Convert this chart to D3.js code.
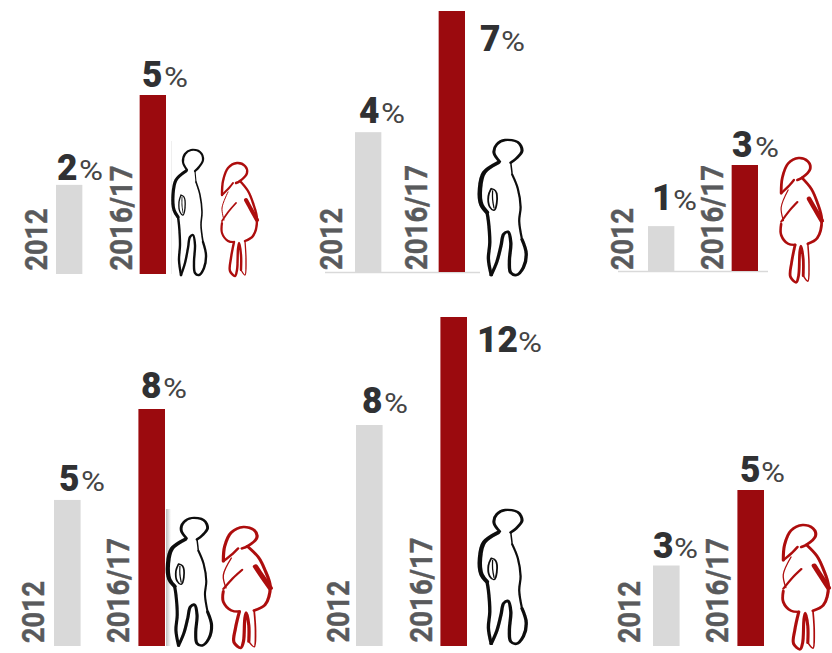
<!DOCTYPE html>
<html>
<head>
<meta charset="utf-8">
<script src="https://cdnjs.cloudflare.com/ajax/libs/d3/7.8.5/d3.min.js"></script>
<style>
  html, body { margin: 0; padding: 0; background: #fff; }
  text { font-family: Roboto, "Liberation Sans", sans-serif; }
</style>
</head>
<body>
<script>
// Values (one entry per small chart, left to right, top to bottom)
var years = ["2012", "2016/17"];
var labels2012 = ["2", "4", "1", "5", "8", "3"];
var labels2016 = ["5", "7", "3", "8", "12", "5"];
var values2012 = [2.49, 3.75, 1.27, 4.93, 8.06, 2.58];
var values2016 = [5, 7, 3, 8, 12, 5];

var width = 832;
var height = 653;

// Where each small chart sits on the page
var panels = [
  {x0: 56,  x1: 166, base: 274, top: 95,  yearX: [47, 132],  yearY: 270.5, num: [[57, 180, 79], [142, 87, 164]]},
  {x0: 355, x1: 465, base: 272, top: 11,  yearX: [342, 427], yearY: 270,   num: [[359, 122.5, 381], [480, 51, 501]], axis: [325, 480]},
  {x0: 648, x1: 758, base: 271, top: 165, yearX: [633, 723], yearY: 270,   num: [[652, 210, 673], [732, 157, 755]], axis: [618, 768]},
  {x0: 54,  x1: 165, base: 646, top: 409, yearX: [44, 129],  yearY: 643,   num: [[59, 491, 81], [141, 398, 163]]},
  {x0: 356, x1: 467, base: 646, top: 317, yearX: [349, 432], yearY: 642.5, num: [[362, 413, 384], [477, 352, 518]]},
  {x0: 653, x1: 764, base: 646, top: 490, yearX: [640, 728], yearY: 643,   num: [[653, 558, 674], [740, 482, 761]]}
];

// Hand traced pictograms, in pixels of a 33x125 man and a 37x113 woman
var manStrokes = [
  {w: 2.2, pts: [[14, 20], [10, 12], [12, 4], [18, 0], [27, 2], [30, 10], [26, 17], [22, 21]]},
  {w: 1.1, pts: [[22, 21], [23, 32]]},
  {w: 1.6, pts: [[23, 32], [27, 45], [29, 62], [28, 75], [30, 92]]},
  {w: 2.4, pts: [[30, 92], [33, 105], [31, 118], [26, 125], [22, 123], [21, 112], [22, 95], [20, 85], [17, 87], [15, 98], [12, 113], [8, 125]]},
  {w: 2.4, pts: [[8, 125], [6, 110], [7, 95], [6, 75], [5, 67]]},
  {w: 3.2, pts: [[5, 67], [1, 60], [0, 45], [3, 30], [13, 21]]},
  {w: 1.3, pts: [[8, 45], [6, 52], [7, 62], [10, 65], [12, 58], [11, 47], [8, 45]]},
  {w: 0.9, pts: [[9, 47], [9, 55], [10, 63]]}
];
var womanStrokes = [
  {w: 2.4, pts: [[1, 32], [2, 18], [7, 5], [16, 0], [24, 3], [26, 10], [19, 18], [15, 20]]},
  {w: 2, pts: [[1, 32], [8, 25], [12, 20]]},
  {w: 2.4, pts: [[19, 18], [27, 28], [32, 40], [36, 56], [32, 73], [24, 78]]},
  {w: 4, pts: [[25, 37], [31, 48], [36, 57]]},
  {w: 1, pts: [[7, 29], [1, 45], [3, 57]]},
  {w: 1.8, pts: [[15, 40], [8, 48], [1, 58]]},
  {w: 2.2, pts: [[1, 60], [1, 70], [7, 78], [13, 79]]},
  {w: 2.4, pts: [[13, 79], [10, 95], [9, 108], [14, 113], [16, 107], [17, 86], [18, 80], [20, 92], [20, 107]]},
  {w: 1.3, pts: [[20, 107], [24, 112], [25, 98], [24, 78]]}
];

var figures = [
  {strokes: manStrokes,   color: "#0a0a0a", x: 173, y: 150, sx: 1,    sy: 1},
  {strokes: womanStrokes, color: "#ad0a0a", x: 221, y: 163, sx: 1,    sy: 1},
  {strokes: manStrokes,   color: "#0a0a0a", x: 480, y: 140, sx: 1.4,  sy: 1.08},
  {strokes: womanStrokes, color: "#ad0a0a", x: 780, y: 158, sx: 1.16, sy: 1.1},
  {strokes: manStrokes,   color: "#0a0a0a", x: 168, y: 518, sx: 1.32, sy: 1.02},
  {strokes: womanStrokes, color: "#ad0a0a", x: 222, y: 527, sx: 1.34, sy: 1.07},
  {strokes: manStrokes,   color: "#0a0a0a", x: 480, y: 510, sx: 1.4,  sy: 1.07},
  {strokes: womanStrokes, color: "#ad0a0a", x: 782, y: 525, sx: 1.29, sy: 1.1}
];

var svg = d3.select("body").append("svg")
  .attr("width", width)
  .attr("height", height)
  .style("display", "block");

var defs = svg.append("defs");

// Fading edge next to the red bar in the lower left chart
var grad = defs.append("linearGradient").attr("id", "fade");
grad.append("stop").attr("offset", 0).attr("stop-color", "#bdbdbd");
grad.append("stop").attr("offset", 1).attr("stop-color", "#ffffff");

// The people are soft edged in the original
defs.append("filter").attr("id", "soft")
  .append("feGaussianBlur").attr("stdDeviation", 0.3);

svg.append("rect").attr("x", 166).attr("y", 509).attr("width", 5).attr("height", 137).attr("fill", "url(#fade)");
svg.append("rect").attr("x", 171).attr("y", 141).attr("width", 1).attr("height", 133).attr("fill", "#efefef");

panels.forEach(function(p, i) {
  var vals = [values2012[i], values2016[i]];
  var labs = [labels2012[i], labels2016[i]];

  var x = d3.scaleBand().domain(years).range([p.x0, p.x1]).paddingInner(0.685);
  var y = d3.scaleLinear().domain([0, d3.max(vals)]).range([p.base, p.top]);

  var g = svg.append("g");

  if (p.axis) {
    g.append("line")
      .attr("x1", p.axis[0]).attr("x2", p.axis[1])
      .attr("y1", p.base + 0.5).attr("y2", p.base + 0.5)
      .attr("stroke", "#d9d9d9").attr("stroke-width", 1.5);
  }

  g.selectAll("rect")
    .data(years)
    .enter()
    .append("rect")
    .attr("x", function(d) { return x(d); })
    .attr("width", x.bandwidth())
    .attr("y", function(d, j) { return y(vals[j]); })
    .attr("height", function(d, j) { return y(0) - y(vals[j]); })
    .attr("fill", function(d, j) { return j == 0 ? "#d9d9d9" : "#9b0a0e"; });

  // Rotated year labels
  years.forEach(function(yr, j) {
    g.append("text")
      .attr("transform", "translate(" + p.yearX[j] + "," + p.yearY + ") rotate(-90)")
      .attr("font-size", 31)
      .attr("font-weight", 700)
      .attr("fill", "#595a5c")
      .attr("stroke", "#595a5c")
      .attr("stroke-width", 0.4)
      .attr("textLength", j == 0 ? 62 : 105)
      .attr("lengthAdjust", "spacingAndGlyphs")
      .text(yr);

    // Big number and small percent sign
    g.append("text")
      .attr("x", p.num[j][0]).attr("y", p.num[j][1])
      .attr("font-size", 37)
      .attr("font-weight", 900)
      .attr("fill", "#303133")
      .attr("textLength", labs[j].length * 20.5)
      .attr("lengthAdjust", "spacingAndGlyphs")
      .text(labs[j]);
    g.append("text")
      .attr("x", p.num[j][2]).attr("y", p.num[j][1])
      .attr("font-size", 28)
      .attr("fill", "#454545")
      .attr("textLength", 24)
      .attr("lengthAdjust", "spacingAndGlyphs")
      .text("%");
  });
});

// People
var line = d3.line().curve(d3.curveCatmullRom.alpha(0.5));

figures.forEach(function(f) {
  var g = svg.append("g")
    .attr("filter", "url(#soft)")
    .attr("transform", "translate(" + f.x + "," + f.y + ") scale(" + f.sx + "," + f.sy + ")");
  g.selectAll("path")
    .data(f.strokes)
    .enter()
    .append("path")
    .attr("d", function(d) { return line(d.pts); })
    .attr("fill", "none")
    .attr("stroke", f.color)
    .attr("stroke-linecap", "round")
    .attr("stroke-linejoin", "round")
    .attr("stroke-width", function(d) { return d.w; });
});
</script>
</body>
</html>
